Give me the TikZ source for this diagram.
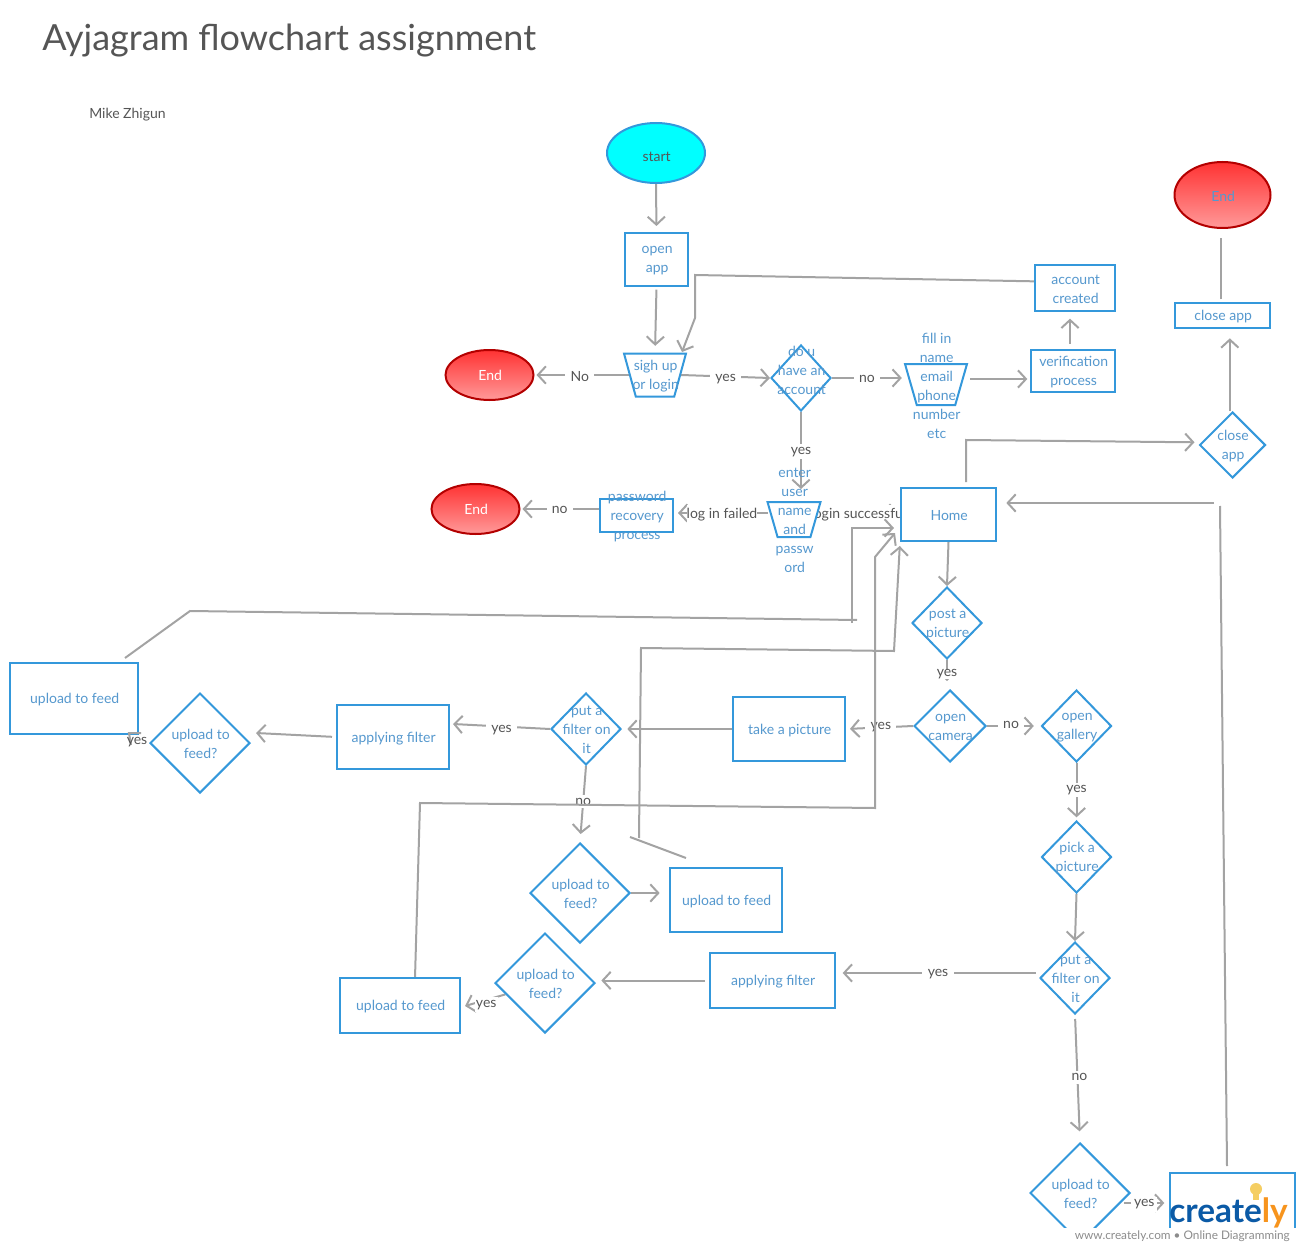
\documentclass[tikz,border=0pt]{standalone}
\usepackage{fontspec}
\setmainfont{Lato}
\usetikzlibrary{arrows.meta,shapes.geometric}
\definecolor{nodeblue}{HTML}{3498DB}
\definecolor{textblue}{HTML}{5598CE}
\definecolor{linegray}{HTML}{A3A3A3}
\definecolor{labelgray}{HTML}{555555}
\definecolor{markgray}{HTML}{8C8C8C}
\definecolor{darkred}{HTML}{B30000}
\definecolor{startcyan}{HTML}{00FFFF}
\definecolor{logoblue}{HTML}{0B5AA6}
\definecolor{logoorange}{HTML}{F7941D}
\definecolor{logobulb}{HTML}{F5CE62}
\pgfdeclarelayer{wires}
\pgfsetlayers{wires,main}

\begin{document}
\begin{tikzpicture}[x=0.75pt, y=-0.75pt,
  txt/.style={font=\fontsize{10.5}{14.25}\selectfont, text=textblue, align=center, inner sep=0pt, xshift=.5pt, yshift=-1pt},
  note/.style={label={[txt]center:{#1}}},
  shape base/.style={draw=nodeblue, fill=white, line width=1.5pt, inner sep=0pt},
  rbox/.style 2 args={shape base, rectangle, minimum width=#1*0.75pt, minimum height=#2*0.75pt},
  dia/.style 2 args={shape base, diamond, minimum width=#1*0.75pt, minimum height=#2*0.75pt},
  trap/.style 2 args={shape base, inner sep=1pt, trapezium, trapezium stretches=true, shape border rotate=180,
    trapezium left angle=73, trapezium right angle=73,
    minimum width=#1*0.75pt, minimum height=#2*0.75pt},
  stop/.style={ellipse, draw=darkred, line width=1.5pt, top color=red!80!white,
    bottom color=red!40!white, minimum width=88*0.75pt, minimum height=50*0.75pt, inner sep=0pt},
  wire/.style={draw=linegray, line width=1.5pt},
  arr/.style={wire, -{Straight Barb[length=6pt,width=13pt]}},
  lab/.style={font=\fontsize{10.5}{12}\selectfont, text=labelgray, fill=white,
    inner xsep=4pt, inner ysep=2pt, yshift=-1pt}]
\useasboundingbox (0,0) rectangle (1304,1252);

\node[font=\fontsize{27}{32}\selectfont, text=labelgray, anchor=west, inner sep=0pt] (title) at (42,41)
  {Ayjagram flowchart assignment};
\node[font=\fontsize{10.5}{12}\selectfont, text=labelgray, anchor=west, inner sep=0pt] (author) at (89,115)
  {Mike Zhigun};

\node[shape base, ellipse, fill=startcyan, minimum width=98*0.75pt, minimum height=60*0.75pt,
  label={[txt, text=labelgray, yshift=-2pt]center:start}] (start) at (656,153) {};
\node[rbox={63}{53}, note={open\\app}] (openapp) at (656.5,259.5) {};
\node[trap={62}{43}, note={sigh up\\or login}] (signup) at (655,375) {};
\node[stop, label={[txt, text=white, yshift=.75pt]center:End}] (endA) at (489.5,375) {};
\node[dia={60}{66}, label={[txt, yshift=7pt]center:{do u\\have an\\account}}] (account) at (801,378) {};
\node[trap={62}{41}, note={fill in\\name\\email\\phone\\number\\etc}] (details) at (936,384.5) {};
\node[rbox={84}{42}, note={verification\\process}] (verif) at (1073,371) {};
\node[rbox={80}{46}, note={account\\created}] (created) at (1075,288) {};
\node[rbox={95}{25}, note={close app}] (closebox) at (1222.5,315.5) {};
\node[stop, minimum width=96*0.75pt, minimum height=66*0.75pt, note={End}] (endC) at (1222.5,195) {};
\node[dia={66}{66}, note={close\\app}] (closedia) at (1232.5,445) {};
\node[rbox={95}{53}, note={Home}] (home) at (948.5,514.5) {};
\node[trap={53}{35}, note={enter\\user\\name\\and\\passw\\ord}] (enter) at (794,519.5) {};
\node[rbox={73}{33}, note={password\\recovery\\process}] (password) at (636.5,515.5) {};
\node[stop, label={[txt, text=white, yshift=.75pt]center:End}] (endB) at (475.5,509) {};
\node[dia={70}{72}, note={post a\\picture}] (post) at (947,623) {};
\node[dia={72}{72}, note={open\\camera}] (camera) at (950,726) {};
\node[dia={70}{72}, note={open\\gallery}] (gallery) at (1076.5,726) {};
\node[rbox={112}{64}, note={take a picture}] (take) at (789,729) {};
\node[dia={70}{72}, note={put a\\filter on\\it}] (filterA) at (586,729) {};
\node[rbox={112}{64}, note={applying filter}] (applyA) at (393,737) {};
\node[dia={100}{100}, note={upload to\\feed?}] (uploadA) at (200,743) {};
\node[rbox={128}{71}, note={upload to feed}] (feedA) at (74,698.5) {};
\node[dia={100}{100}, note={upload to\\feed?}] (uploadB) at (580,893) {};
\node[rbox={112}{64}, note={upload to feed}] (feedB) at (726,900) {};
\node[dia={100}{100}, note={upload to\\feed?}] (uploadC) at (545,983) {};
\node[rbox={120}{55}, note={upload to feed}] (feedC) at (400,1005.5) {};
\node[rbox={125}{55}, note={applying filter}] (applyB) at (772.5,980.5) {};
\node[dia={70}{72}, note={put a\\filter on\\it}] (filterB) at (1075,978) {};
\node[dia={70}{72}, note={pick a\\picture}] (pick) at (1076.5,857) {};
\node[dia={100}{100}, note={upload to\\feed?}] (uploadD) at (1080,1193) {};
\node[rbox={125}{75}] (feedD) at (1232.5,1210.5) {};

\coordinate (topin) at (682,352);
\coordinate (detout) at (970,379);
\coordinate (entleft) at (768,513);
\coordinate (entright) at (820,513);
\coordinate (homeup) at (966,482);
\coordinate (filtout) at (453,724);
\coordinate (applyin) at (256,733);
\coordinate (feedAa) at (125,658);
\coordinate (feedAb) at (857,620);
\coordinate (feedAc) at (852,623);
\coordinate (feedAd) at (894,528);
\coordinate (feedBa) at (686,858);
\coordinate (feedBb) at (630,837);
\coordinate (feedBc) at (639,838);
\coordinate (feedCa) at (415,978);
\coordinate (feedCb) at (895,533);
\coordinate (putout) at (1036,973);
\coordinate (yesin) at (465,1006);
\coordinate (yesout) at (1124,1203);
\coordinate (backa) at (1227,1166);
\coordinate (backb) at (1220,506);
\coordinate (backc) at (1214,503);

\begin{pgfonlayer}{wires}
\draw[arr, shorten >=4.5pt] (start.south) -- (openapp.north);
\draw[arr, shorten <=2pt, shorten >=5pt] (openapp.south) -- (signup.north);
\draw[arr] ([yshift=5pt]created.west) -- (695,275) -- (695,318) -- (topin);
\draw[arr, shorten >=1.5pt] (signup.west) -- node[lab, pos=.52]{No} (endA.east);
\draw[arr] (signup.east) -- node[lab, pos=.5, yshift=-1pt]{yes} (account.west);
\draw[arr, shorten >=6pt] (account.east) -- node[lab, pos=.45]{no} (account.east -| details.west);
\draw[arr, shorten >=2pt] (detout) -- (detout -| verif.west);
\draw[arr, shorten <=4pt, shorten >=5pt] ([xshift=-2.25pt]verif.north) -- ([xshift=-3.75pt]created.south);
\draw[arr, shorten >=9pt] (account.south) -- node[lab, pos=.43]{yes} (account.south |- enter.north);
\draw[arr, shorten >=3pt] (entleft) -- node[lab, pos=.5, inner xsep=0pt, xshift=.75pt]{log in failed} (entleft -| password.east);
\draw[arr, shorten >=1.5pt] (password.west |- endB.east) -- node[lab, pos=.5]{no} (endB.east);
\draw[arr, shorten >=1pt] (entright) -- node[lab, pos=.48]{login successful} (entright -| home.west);
\draw[arr] (home.south) -- (post.north);
\draw[arr, shorten >=3pt] (homeup) -- (966,440) -- ([yshift=2pt]closedia.west);
\draw[arr, shorten >=7pt] ([xshift=-2pt]closedia.north) -- ([xshift=-2pt]closedia.north |- closebox.south);
\draw[wire, shorten <=2pt, shorten >=7pt] ([xshift=-1.5pt]closebox.north) -- ([xshift=-1.5pt]endC.south);
\draw[arr, shorten >=6pt] (post.south) -- node[lab, pos=.45, inner ysep=0pt]{yes} (post.south |- camera.north);
\draw[arr, shorten >=5pt] (camera.east) -- node[lab, pos=.45, yshift=1.5pt]{no} (gallery.west);
\draw[arr, shorten >=3pt] (camera.west) -- node[lab, pos=.48, yshift=1.5pt]{yes} (take.east);
\draw[arr, shorten >=4pt] (take.west) -- (filterA.east);
\draw[arr] (filterA.west) -- node[lab, pos=.5, yshift=-1.5pt]{yes} (filtout);
\draw[arr, shorten <=3pt] (applyA.west) -- (applyin);
\draw[arr, shorten >=6pt] (filterA.south) -- node[lab, pos=.45]{no} (uploadB.north);
\draw[arr, shorten >=7pt] (uploadB.east) -- (uploadB.east -| feedB.west);
\draw[wire] (feedAa) -- (190,611) -- (feedAb);
\draw[arr] (feedAc) -- (852,528) -- (feedAd);
\draw[wire] (feedBa) -- (feedBb);
\draw[arr, shorten >=3pt] (feedBc) -- (641,648) -- (894,651) -- (home.south west);
\draw[arr] (feedCa) -- (420,803) -- (875,808) -- (875,557) -- (feedCb);
\draw[arr, shorten >=2pt] (gallery.south) -- node[lab, pos=.45]{yes} (pick.north);
\draw[arr] (pick.south) -- (filterB.north);
\draw[arr, shorten >=5pt] (putout) -- node[lab, pos=.49]{yes} (putout -| applyB.east);
\draw[arr, shorten <=3pt, shorten >=4pt] (applyB.west) -- (applyB.west -| uploadC.east);
\draw[arr] (uploadC) -- node[lab, pos=.5, inner xsep=1pt, yshift=-2.5pt, xshift=.75pt]{yes} (yesin);
\draw[arr, shorten <=3pt, shorten >=8pt] (filterB.south) -- node[lab, pos=.48, xshift=1.5pt]{no} (uploadD.north);
\draw[arr, shorten >=3.5pt] (yesout) -- node[lab, pos=.45, inner xsep=2pt]{yes} (yesout -| feedD.west);
\draw[wire] (backa) -- (backb);
\draw[arr, shorten >=7pt] (backc) -- (backc -| home.east);
\end{pgfonlayer}

\draw[wire] (141,733) -- (129,733) -- (131,745);
\node[lab, fill=none, inner sep=0pt] (yesA) at (137,741) {yes};

\fill[white] (1060,1228) rectangle (1304,1252);
\node[font=\fontsize{8.86}{11}\selectfont, text=markgray, anchor=east, inner sep=0pt] (mark) at (1290,1236.5)
  {www.creately.com • Online Diagramming};
\node[font=\bfseries\fontsize{25}{30}\selectfont, anchor=base west, inner sep=0pt, text=logoblue] (logo) at (1169,1222)
  {create\textcolor{logoorange}{ly}};
\node[circle, fill=logobulb, minimum size=9pt, inner sep=0pt] (bulb) at (1256,1189) {};
\node[rectangle, fill=logobulb, minimum width=4.5pt, minimum height=4pt, inner sep=0pt] (bulbbase) at (1256,1197) {};
\end{tikzpicture}
\end{document}
